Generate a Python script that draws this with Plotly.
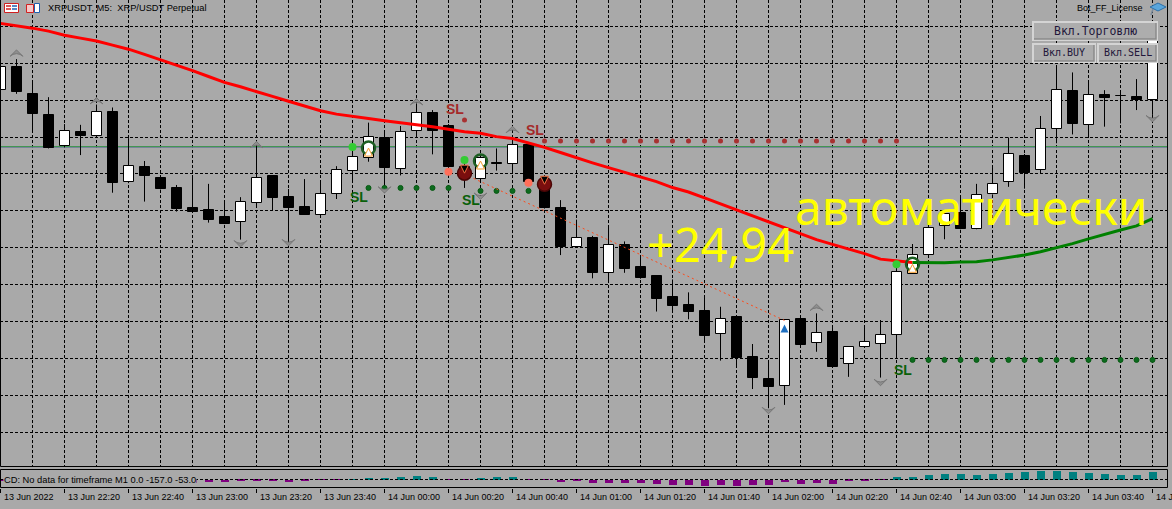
import plotly.graph_objects as go

# ---------------- data ----------------
bar_index = list(range(73))
tick_bars = list(range(0, 73, 4))
tick_labels = ["13 Jun 2022", "13 Jun 22:20", "13 Jun 22:40", "13 Jun 23:00", "13 Jun 23:20",
               "13 Jun 23:40", "14 Jun 00:00", "14 Jun 00:20", "14 Jun 00:40", "14 Jun 01:00",
               "14 Jun 01:20", "14 Jun 01:40", "14 Jun 02:00", "14 Jun 02:20", "14 Jun 02:40",
               "14 Jun 03:00", "14 Jun 03:20", "14 Jun 03:40", "14 Jun 04:00"]

open_ = [0.33027, 0.33089, 0.33017, 0.32961, 0.32876, 0.32914, 0.32904, 0.32968, 0.32777, 0.32818,
         0.32789, 0.32762, 0.32707, 0.32701, 0.32683, 0.32669, 0.32720, 0.32794, 0.32737, 0.32710,
         0.32689, 0.32745, 0.32809, 0.32844, 0.32898, 0.32812, 0.32915, 0.32964, 0.32929, 0.32792,
         0.32785, 0.32830, 0.32826, 0.32878, 0.32781, 0.32708, 0.32601, 0.32626, 0.32531, 0.32606,
         0.32547, 0.32523, 0.32466, 0.32444, 0.32428, 0.32367, 0.32412, 0.32304, 0.32244, 0.32226,
         0.32406, 0.32343, 0.32371, 0.32284, 0.32330, 0.32338, 0.32363, 0.32530, 0.32579, 0.32659,
         0.32693, 0.32651, 0.32745, 0.32777, 0.32849, 0.32810, 0.32921, 0.33025, 0.32932, 0.33014,
         0.33012, 0.33008, 0.33000]
high = [0.33101, 0.33111, 0.33050, 0.33008, 0.32935, 0.32933, 0.32988, 0.32980, 0.32897, 0.32835,
        0.32795, 0.32770, 0.32792, 0.32773, 0.32726, 0.32737, 0.32876, 0.32796, 0.32759, 0.32786,
        0.32777, 0.32821, 0.32858, 0.32939, 0.32913, 0.32930, 0.32991, 0.32973, 0.32935, 0.32830,
        0.32851, 0.32869, 0.32900, 0.32883, 0.32789, 0.32729, 0.32676, 0.32632, 0.32659, 0.32617,
        0.32579, 0.32524, 0.32514, 0.32479, 0.32466, 0.32440, 0.32413, 0.32339, 0.32291, 0.32405,
        0.32407, 0.32422, 0.32386, 0.32332, 0.32389, 0.32404, 0.32553, 0.32610, 0.32680, 0.32702,
        0.32738, 0.32773, 0.32824, 0.32899, 0.32854, 0.32957, 0.33090, 0.33075, 0.33052, 0.33027,
        0.33027, 0.33057, 0.33176]
low = [0.33022, 0.33017, 0.32914, 0.32869, 0.32872, 0.32851, 0.32898, 0.32749, 0.32775, 0.32725,
       0.32758, 0.32698, 0.32696, 0.32668, 0.32664, 0.32622, 0.32710, 0.32702, 0.32616, 0.32689,
       0.32688, 0.32732, 0.32783, 0.32833, 0.32766, 0.32796, 0.32903, 0.32853, 0.32811, 0.32762,
       0.32783, 0.32809, 0.32806, 0.32778, 0.32706, 0.32580, 0.32600, 0.32517, 0.32510, 0.32532,
       0.32516, 0.32427, 0.32427, 0.32406, 0.32345, 0.32294, 0.32277, 0.32217, 0.32165, 0.32174,
       0.32330, 0.32318, 0.32277, 0.32250, 0.32329, 0.32248, 0.32299, 0.32529, 0.32578, 0.32623,
       0.32650, 0.32650, 0.32744, 0.32765, 0.32760, 0.32802, 0.32883, 0.32907, 0.32901, 0.32928,
       0.32937, 0.32973, 0.32960]
close = [0.33090, 0.33021, 0.32963, 0.32871, 0.32916, 0.32904, 0.32967, 0.32776, 0.32821, 0.32793,
         0.32759, 0.32705, 0.32698, 0.32675, 0.32665, 0.32725, 0.32788, 0.32735, 0.32708, 0.32690,
         0.32745, 0.32811, 0.32846, 0.32899, 0.32817, 0.32913, 0.32964, 0.32916, 0.32819, 0.32819,
         0.32843, 0.32827, 0.32877, 0.32779, 0.32707, 0.32601, 0.32625, 0.32532, 0.32606, 0.32541,
         0.32517, 0.32461, 0.32443, 0.32427, 0.32362, 0.32406, 0.32302, 0.32248, 0.32223, 0.32403,
         0.32337, 0.32368, 0.32278, 0.32331, 0.32344, 0.32363, 0.32534, 0.32579, 0.32653, 0.32691,
         0.32651, 0.32742, 0.32773, 0.32853, 0.32802, 0.32922, 0.33027, 0.32936, 0.33013, 0.33006,
         0.33011, 0.33000, 0.33168]

ma_values = [0.33208, 0.33202, 0.33195, 0.33187, 0.33176, 0.33168, 0.33160, 0.33149, 0.33138, 0.33124,
             0.33110, 0.33095, 0.33080, 0.33064, 0.33048, 0.33036, 0.33024, 0.33010, 0.32997, 0.32984,
             0.32971, 0.32962, 0.32955, 0.32950, 0.32944, 0.32939, 0.32934, 0.32928, 0.32921, 0.32914,
             0.32910, 0.32901, 0.32896, 0.32885, 0.32872, 0.32858, 0.32843, 0.32830, 0.32817, 0.32805,
             0.32793, 0.32779, 0.32763, 0.32751, 0.32735, 0.32719, 0.32702, 0.32686, 0.32670, 0.32653,
             0.32637, 0.32622, 0.32609, 0.32597, 0.32584, 0.32569, 0.32564, 0.32560, 0.32559, 0.32559,
             0.32561, 0.32562, 0.32567, 0.32573, 0.32580, 0.32589, 0.32599, 0.32611, 0.32624, 0.32637,
             0.32648, 0.32659, 0.32679]
ma_switch_bar = 57

macd_hist = [-20, -40, -60, -80, -80, -60, -60, -80, -80, -60, -60, -60, -60, -46, -50, -30, -20, -30,
             -50, -30, -10, -10, 10, 26, 26, 54, 80, 54, -10, -10, 34, 54, 54, -10, -10, -54, -34, -66,
             -66, -66, -66, -86, -106, -106, -126, -106, -126, -106, -106, -46, -86, -66, -86, -26, -26,
             -10, 46, 46, 94, 114, 114, 94, 114, 134, 154, 174, 174, 154, 134, 114, 94, 94, 154]

grid_prices = [0.321, 0.322, 0.323, 0.324, 0.325, 0.326, 0.327, 0.328, 0.329, 0.330, 0.331, 0.332]
trade_level = 0.32874
bid_level = 0.32872

fractal_up_bars = [1, 6, 16, 26, 32, 51]
fractal_up_price = [0.33136, 0.33007, 0.32888, 0.33004, 0.32929, 0.32447]
fractal_dn_bars = [15, 18, 24, 30, 48, 55, 72]
fractal_dn_price = [0.32602, 0.32605, 0.32748, 0.32731, 0.32150, 0.32226, 0.32941]

sell_sl_bars = [29] + list(range(34, 57))
sell_sl_price = [0.32946] + [0.32889] * 23
buy_sl_bars = list(range(23, 29)) + list(range(30, 34)) + list(range(57, 73))
buy_sl_price = [0.32762] * 6 + [0.32754] * 4 + [0.32296] * 16

signal_dot_bars = [22, 29, 56]
signal_dot_price = [0.32873, 0.32838, 0.32555]
entry_dot_bars = [28, 33]
entry_dot_price = [0.32806, 0.32776]
buy_icon_bars = [23, 30, 57]
buy_icon_price = [0.32870, 0.32835, 0.32555]
sell_icon_bars = [29, 34]
sell_icon_price = [0.32802, 0.32772]
close_arrow_bars = [49]
close_arrow_price = [0.32392]
trade_line_bars = [29, 49]
trade_line_price = [0.32799, 0.32403]

sell_sl_text_bars = [28.4, 33.4]
sell_sl_text_price = [0.32973, 0.32914]
buy_sl_text_bars = [22.4, 29.4, 56.4]
buy_sl_text_price = [0.32734, 0.32725, 0.32265]

note_profit = "+24,94"
note_profit_pos = (45.0, 0.32610)
note_auto = "автоматически"
note_auto_pos = (60.7, 0.32712)

title_text = "XRPUSDT, M5:\u00a0 XRP/USDT Perpetual"
license_text = "Bot_FF_License"
macd_text = "CD: No data for timeframe M1 0.0 -157.0 -53.0"
buttons = [("Вкл.Торговлю", 1033, 22, 1157, 40, 11.5),
           ("Вкл.BUY", 1033, 44, 1095, 62, 10),
           ("Вкл.SELL", 1098, 44, 1157, 62, 10)]

# ---------------- style / layout helpers ----------------
BG = "#A9A9A9"
PLOT_W, PLOT_H = 1168, 488
X_RANGE = [-0.03125, 72.96875]
Y_RANGE = [0.320057, 0.332713]
UI_FONT = "Liberation Sans, Arial, sans-serif"


def px(x):
    return x / PLOT_W


def py(y):
    return (PLOT_H - y) / PLOT_H


fig = go.Figure()

# level lines (behind candles)
fig.add_trace(go.Scatter(x=[-1, 74], y=[trade_level, trade_level], mode="lines",
                         line=dict(color="#2E9B3A", width=1), hoverinfo="skip", zorder=-2))
fig.add_trace(go.Scatter(x=[-1, 74], y=[bid_level, bid_level], mode="lines",
                         line=dict(color="#6F7F98", width=1), hoverinfo="skip", zorder=-2))

# wicks
wx, wy = [], []
for i in bar_index:
    wx += [i, i, None]
    wy += [high[i], low[i], None]
fig.add_trace(go.Scatter(x=wx, y=wy, mode="lines", line=dict(color="black", width=1),
                         hoverinfo="skip", zorder=0))

# bodies
bull = [i for i in bar_index if close[i] >= open_[i]]
bear = [i for i in bar_index if close[i] < open_[i]]
for idx, col in ((bull, "white"), (bear, "black")):
    fig.add_trace(go.Bar(x=idx, y=[abs(close[i] - open_[i]) for i in idx],
                         base=[min(open_[i], close[i]) for i in idx], width=0.625,
                         marker=dict(color=col, line=dict(color="black", width=1)),
                         hoverinfo="skip", zorder=1))

# SL dot levels
fig.add_trace(go.Scatter(x=sell_sl_bars, y=sell_sl_price, mode="markers",
                         marker=dict(color="#A83232", size=5), hoverinfo="skip", zorder=2))
fig.add_trace(go.Scatter(x=buy_sl_bars, y=buy_sl_price, mode="markers",
                         marker=dict(color="#0B6B1E", size=5, line=dict(color="#0A5A14", width=1)),
                         hoverinfo="skip", zorder=2))

# trade line (dotted)
fig.add_trace(go.Scatter(x=trade_line_bars, y=trade_line_price, mode="lines",
                         line=dict(color="#FF4A1A", width=1, dash="2px,3px"), hoverinfo="skip", zorder=2))

# fractals
fig.add_trace(go.Scatter(x=fractal_up_bars, y=fractal_up_price, mode="markers",
                         marker=dict(symbol="arrow-wide", angle=0, size=9, color="#8E8E8E",
                                     line=dict(color="#777777", width=1)), hoverinfo="skip", zorder=2))
fig.add_trace(go.Scatter(x=fractal_dn_bars, y=fractal_dn_price, mode="markers",
                         marker=dict(symbol="arrow-wide", angle=180, size=9, color="#8E8E8E",
                                     line=dict(color="#777777", width=1)), hoverinfo="skip", zorder=2))

# moving average (red then green)
fig.add_trace(go.Scatter(x=bar_index[:ma_switch_bar + 1], y=ma_values[:ma_switch_bar + 1], mode="lines",
                         line=dict(color="#FF0000", width=3), hoverinfo="skip", zorder=3))
fig.add_trace(go.Scatter(x=bar_index[ma_switch_bar:], y=ma_values[ma_switch_bar:], mode="lines",
                         line=dict(color="#008000", width=3), hoverinfo="skip", zorder=3))

# signal dots
fig.add_trace(go.Scatter(x=signal_dot_bars, y=signal_dot_price, mode="markers",
                         marker=dict(color="#33CC33", size=8), hoverinfo="skip", zorder=4))
fig.add_trace(go.Scatter(x=entry_dot_bars, y=entry_dot_price, mode="markers",
                         marker=dict(color="#FF6F5A", size=8), hoverinfo="skip", zorder=4))

# buy icons
fig.add_trace(go.Scatter(x=buy_icon_bars, y=buy_icon_price, mode="markers",
                         marker=dict(symbol="circle-open", size=13, color="#1C5E22",
                                     line=dict(width=2.5, color="#1C5E22")), hoverinfo="skip", zorder=4))
fig.add_trace(go.Scatter(x=buy_icon_bars, y=buy_icon_price, mode="markers",
                         marker=dict(symbol="arrow-up", size=8, color="white",
                                     line=dict(width=1, color="#F39A2B")), hoverinfo="skip", zorder=5))
# sell icons
fig.add_trace(go.Scatter(x=sell_icon_bars, y=sell_icon_price, mode="markers",
                         marker=dict(symbol="circle", size=14, color="#7A0E0E",
                                     line=dict(width=1.5, color="#4A0606")), hoverinfo="skip", zorder=4))
fig.add_trace(go.Scatter(x=sell_icon_bars, y=sell_icon_price, mode="markers",
                         marker=dict(symbol="arrow-down", size=8, color="black",
                                     line=dict(width=1, color="#F07040")), hoverinfo="skip", zorder=5))
# close arrow
fig.add_trace(go.Scatter(x=close_arrow_bars, y=close_arrow_price, mode="markers",
                         marker=dict(symbol="arrow-up", size=8, color="#1E6FC0"), hoverinfo="skip", zorder=5))

# SL labels
SL_FONT = "Liberation Sans Narrow, Arial Narrow, Liberation Sans, sans-serif"
fig.add_trace(go.Scatter(x=sell_sl_text_bars, y=sell_sl_text_price, mode="text", text=["SL"] * 2,
                         textfont=dict(family=SL_FONT, size=14, color="#A52A2A", weight="bold"),
                         hoverinfo="skip", zorder=5))
fig.add_trace(go.Scatter(x=buy_sl_text_bars, y=buy_sl_text_price, mode="text", text=["SL"] * 3,
                         textfont=dict(family=SL_FONT, size=14, color="#0A600A", weight="bold"),
                         hoverinfo="skip", zorder=5))

# indicator histogram
fig.add_trace(go.Bar(x=bar_index, y=macd_hist, width=0.5, xaxis="x2", yaxis="y2",
                     marker=dict(color=["#008080" if v > 0 else "#800080" for v in macd_hist], line=dict(width=0)),
                     hoverinfo="skip"))

shapes = []
# indicator zero line
shapes.append(dict(type="line", xref="x2", yref="y2", x0=X_RANGE[0], x1=X_RANGE[1], y0=0, y1=0,
                   line=dict(color="black", width=1, dash="3px,2px")))
# panel borders
shapes.append(dict(type="rect", xref="paper", yref="paper", x0=px(0.5), x1=px(1167.5),
                   y0=py(466.5), y1=py(-2), line=dict(color="black", width=1)))
shapes.append(dict(type="rect", xref="paper", yref="paper", x0=px(0.5), x1=px(1167.5),
                   y0=py(487.5), y1=py(469.5), line=dict(color="black", width=1)))

# title icons
shapes.append(dict(type="rect", xref="paper", yref="paper", x0=px(4.5), x1=px(18.5), y0=py(12.5), y1=py(3.5),
                   fillcolor="white", line=dict(color="#D02020", width=1)))
for yy in (6, 9):
    shapes.append(dict(type="line", xref="paper", yref="paper", x0=px(6), x1=px(11), y0=py(yy), y1=py(yy),
                       line=dict(color="#D02020", width=1.5)))
    shapes.append(dict(type="line", xref="paper", yref="paper", x0=px(12), x1=px(17), y0=py(yy), y1=py(yy),
                       line=dict(color="#1E5FB0", width=1.5)))
shapes.append(dict(type="rect", xref="paper", yref="paper", x0=px(26.5), x1=px(33.5), y0=py(12.5), y1=py(4.5),
                   fillcolor="#F6C8C8", line=dict(color="#D02020", width=1)))
shapes.append(dict(type="rect", xref="paper", yref="paper", x0=px(34.5), x1=px(39.5), y0=py(12.5), y1=py(3.5),
                   fillcolor="white", line=dict(color="#1E5FB0", width=1)))
# license icon
shapes.append(dict(type="path", xref="paper", yref="paper",
                   path=f"M {px(1150)},{py(7)} L {px(1158)},{py(3)} L {px(1166)},{py(7)} L {px(1158)},{py(11)} Z",
                   fillcolor="#5AA6DC", line=dict(color="#2E6FA8", width=1)))
shapes.append(dict(type="line", xref="paper", yref="paper", x0=px(1153), x1=px(1151), y0=py(9), y1=py(15),
                   line=dict(color="#7A8A9A", width=1.5)))

annotations = []
# buttons
for label, x0, y0, x1, y1, fs in buttons:
    shapes.append(dict(type="rect", xref="paper", yref="paper", x0=px(x0), x1=px(x1), y0=py(y1), y1=py(y0),
                       fillcolor="#ADADAD", line=dict(color="#D4D4D4", width=2)))
    shapes.append(dict(type="path", xref="paper", yref="paper",
                       path=f"M {px(x0 + 1)},{py(y1 - 1)} L {px(x1 - 1)},{py(y1 - 1)} L {px(x1 - 1)},{py(y0 + 1)}",
                       line=dict(color="#8A8A8A", width=1.5)))
    annotations.append(dict(xref="paper", yref="paper", x=px((x0 + x1) / 2), y=py((y0 + y1) / 2),
                            text=label, showarrow=False, xanchor="center", yanchor="middle",
                            font=dict(family="DejaVu Sans Mono, monospace", size=fs, color="#22163A")))

annotations.append(dict(xref="paper", yref="paper", x=px(46), y=py(8), text=title_text, showarrow=False,
                        xanchor="left", yanchor="middle", font=dict(family=UI_FONT, size=9.3, color="black")))
annotations.append(dict(xref="paper", yref="paper", x=px(1145), y=py(8), text=license_text, showarrow=False,
                        xanchor="right", yanchor="middle", font=dict(family=UI_FONT, size=9, color="black")))
annotations.append(dict(xref="paper", yref="paper", x=px(3), y=py(479.5), text=macd_text, showarrow=False,
                        xanchor="left", yanchor="middle", bgcolor=BG, borderpad=0,
                        font=dict(family=UI_FONT, size=9.3, color="black")))
for b, lab in zip(tick_bars, tick_labels):
    annotations.append(dict(xref="x2", yref="paper", x=b, xshift=1, y=py(497), text=lab, showarrow=False,
                            xanchor="left", yanchor="middle", font=dict(family=UI_FONT, size=9, color="black")))

# handwritten notes
annotations.append(dict(xref="x", yref="y", x=note_profit_pos[0], y=note_profit_pos[1], text=note_profit,
                        showarrow=False, xanchor="center", yanchor="middle",
                        font=dict(family="Noto Sans, sans-serif", size=47, color="#FFFF00")))
annotations.append(dict(xref="x", yref="y", x=note_auto_pos[0], y=note_auto_pos[1], text=note_auto,
                        showarrow=False, xanchor="center", yanchor="middle",
                        font=dict(family="Noto Sans, sans-serif", size=48, color="#FFFF00")))

fig.update_layout(
    width=1172, height=509, margin=dict(l=0, r=4, t=0, b=21, pad=0, autoexpand=False),
    paper_bgcolor=BG, plot_bgcolor=BG, showlegend=False, barmode="overlay", bargap=0,
    xaxis=dict(domain=[0, 1], range=X_RANGE, anchor="y", tickmode="array", tickvals=bar_index[::2],
               showticklabels=False, ticks="", showgrid=True, gridcolor="black", gridwidth=1,
               griddash="3px,2px", zeroline=False, showline=False, fixedrange=True),
    yaxis=dict(domain=[py(467), 1], range=Y_RANGE, anchor="x", tickmode="array", tickvals=grid_prices,
               showticklabels=False, ticks="", showgrid=True, gridcolor="black", gridwidth=1,
               griddash="3px,2px", zeroline=False, showline=False, fixedrange=True),
    xaxis2=dict(domain=[0, 1], range=X_RANGE, anchor="y2", tickmode="array", tickvals=tick_bars,
                showticklabels=False, ticks="outside", ticklen=4, tickwidth=1, tickcolor="black",
                showgrid=False, zeroline=False, showline=False, fixedrange=True),
    yaxis2=dict(domain=[0, py(469)], range=[-170, 210], anchor="x2", showticklabels=False, ticks="",
                showgrid=False, zeroline=False, showline=False, fixedrange=True),
    shapes=shapes, annotations=annotations,
)

fig.write_html("out.html", config={"displayModeBar": False},
               post_script="document.body.style.margin='0px';document.body.style.overflow='hidden';")
